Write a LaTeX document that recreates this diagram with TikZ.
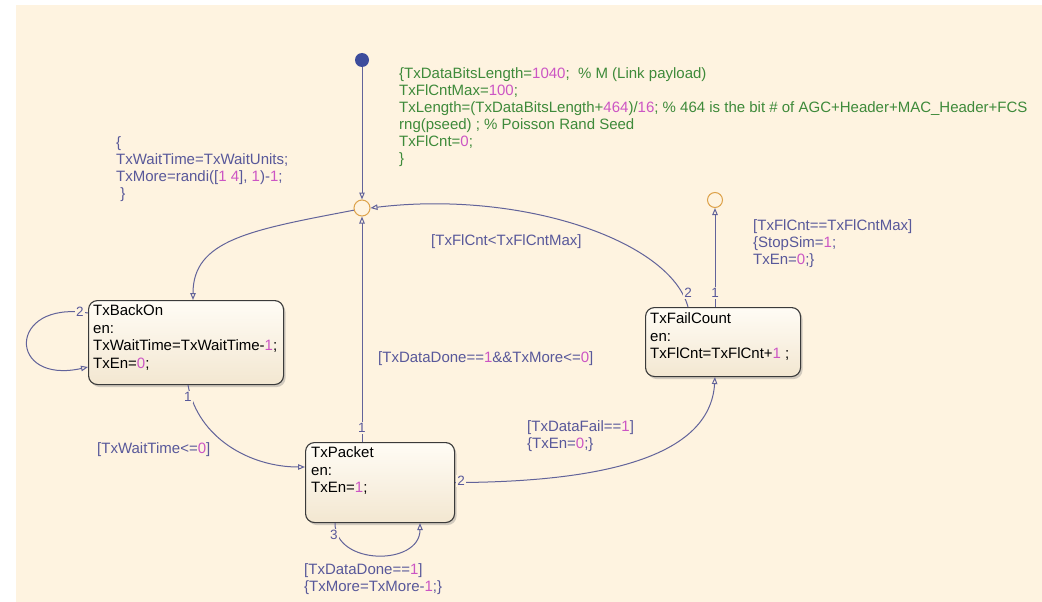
\documentclass[tikz,border=0pt]{standalone}
\usepackage{fontspec}
\setmainfont{Liberation Sans}
\usetikzlibrary{arrows.meta,shadows,calc}

\definecolor{bg}{HTML}{FEF3E0}
\definecolor{trline}{HTML}{62639A}
\definecolor{lbl}{HTML}{58589A}
\definecolor{numc}{HTML}{CC55C4}
\definecolor{cmt}{HTML}{3E8A3A}
\definecolor{stedge}{HTML}{3A3A3A}
\definecolor{sttop}{HTML}{FFFCF5}
\definecolor{stbot}{HTML}{F3E7D1}
\definecolor{juncc}{HTML}{DDA24A}
\definecolor{initc}{HTML}{3D4C9C}

\newcommand{\nm}[1]{\textcolor{numc}{#1}}

\begin{document}
\begin{tikzpicture}[x=1pt,y=-1pt,
  statebox/.style={draw=stedge, line width=1.1pt, rounded corners=9pt,
    top color=sttop, bottom color=stbot, inner sep=0pt, anchor=north west,
    drop shadow={shadow xshift=2pt, shadow yshift=-2.5pt, opacity=0.35}},
  stxt/.style={anchor=north west, align=left, inner sep=0pt,
    font=\fontsize{15}{17.5}\selectfont, text=black},
  trlabel/.style={anchor=north west, align=left, inner sep=0pt,
    font=\fontsize{15}{17}\selectfont, text=lbl},
  trnum/.style={inner sep=1pt, fill=bg, text=lbl, font=\fontsize{13.5}{13.5}\selectfont},
  tr/.style={draw=trline, line width=1pt,
    -{Triangle[open, length=7pt, width=5.5pt]}},
  junction/.style={circle, draw=juncc, fill=bg, line width=1pt, inner sep=0pt}]

\useasboundingbox (0,0) rectangle (1042,602);
\fill[white] (0,0) rectangle (1042,602);
\fill[bg] (16,5) rectangle (1042,602);

% states
\node[statebox, minimum width=195pt, minimum height=84pt] (backon) at (88,300) {};
\node[stxt] (backontxt) at (93,304.5) {TxBackOn\\en:\\TxWaitTime=TxWaitTime-\nm{1};\\TxEn=\nm{0};};

\node[statebox, minimum width=149pt, minimum height=80pt] (packet) at (305,442) {};
\node[stxt] (packettxt) at (311,446.5) {TxPacket\\en:\\TxEn=\nm{1};};

\node[statebox, minimum width=155pt, minimum height=69pt] (fail) at (645,307) {};
\node[stxt] (failtxt) at (650,312.5) {TxFailCount\\en:\\TxFlCnt=TxFlCnt+\nm{1} ;};

% default transition and junctions
\node[circle, fill=initc, minimum size=14pt, inner sep=0pt] (init) at (362,60) {};
\node[junction, minimum size=16pt] (j1) at (362,208) {};
\node[junction, minimum size=15pt] (term) at (715,200) {};

% transitions
\draw[tr] (init) -- (j1);
\draw[tr] (j1.195) .. controls (250,230) and (193,240) .. ($(backon.north west)+(105,0)$);
\draw[tr] ($(backon.north west)+(0,13)$) .. controls (7,300) and (7,385) .. ($(backon.north west)+(0,67)$);
\draw[tr] ($(backon.south west)+(100,0)$) .. controls (198,438) and (250,467) .. ($(packet.north west)+(0,25)$);
\draw[tr] ($(packet.north west)+(57,0)$) -- (j1);
\draw[tr] ($(packet.south west)+(30,0)$) .. controls (335,566) and (420,566) .. ($(packet.south west)+(115,0)$);
\draw[tr] (packet.east) .. controls (600,482) and (710,458) .. ($(fail.south west)+(70,0)$);
\draw[tr] ($(fail.north west)+(43,0)$) .. controls (670,240) and (520,190) .. (j1.east);
\draw[tr] ($(fail.north west)+(70,0)$) -- (term);

% transition execution order numbers
\node[trnum] (n1) at (80,312) {2};
\node[trnum] (n2) at (188,397) {1};
\node[trnum] (n3) at (362,428) {1};
\node[trnum] (n4) at (334,535) {3};
\node[trnum] (n5) at (461,481) {2};
\node[trnum] (n6) at (688,293) {2};
\node[trnum] (n7) at (715,293) {1};

% transition labels
\node[trlabel, text=cmt] (initlbl) at (399,67.5) {\{TxDataBitsLength=\nm{1040};~~\% M (Link payload)\\
TxFlCntMax=\nm{100};\\
TxLength=(TxDataBitsLength+\nm{464})/\nm{16}; \% 464 is the bit \# of AGC+Header+MAC\_Header+FCS\\
rng(pseed) ; \% Poisson Rand Seed\\
TxFlCnt=\nm{0};\\
\}};

\node[trlabel] (entrylbl) at (116,136) {\{\\
TxWaitTime=TxWaitUnits;\\
TxMore=randi([\nm{1} \nm{4}], \nm{1})-\nm{1};\\
\ \}};

\node[trlabel] (retrylbl) at (431,234) {[TxFlCnt<TxFlCntMax]};
\node[trlabel] (stoplbl) at (753,219) {[TxFlCnt==TxFlCntMax]\\\{StopSim=\nm{1};\\TxEn=\nm{0};\}};
\node[trlabel] (donelbl) at (378,351) {[TxDataDone==\nm{1}\&\&TxMore<=\nm{0}]};
\node[trlabel] (waitlbl) at (97,442) {[TxWaitTime<=\nm{0}]};
\node[trlabel] (faillbl) at (527,420) {[TxDataFail==\nm{1}]\\\{TxEn=\nm{0};\}};
\node[trlabel] (morelbl) at (304,563) {[TxDataDone==\nm{1}]\\\{TxMore=TxMore-\nm{1};\}};

\end{tikzpicture}
\end{document}
